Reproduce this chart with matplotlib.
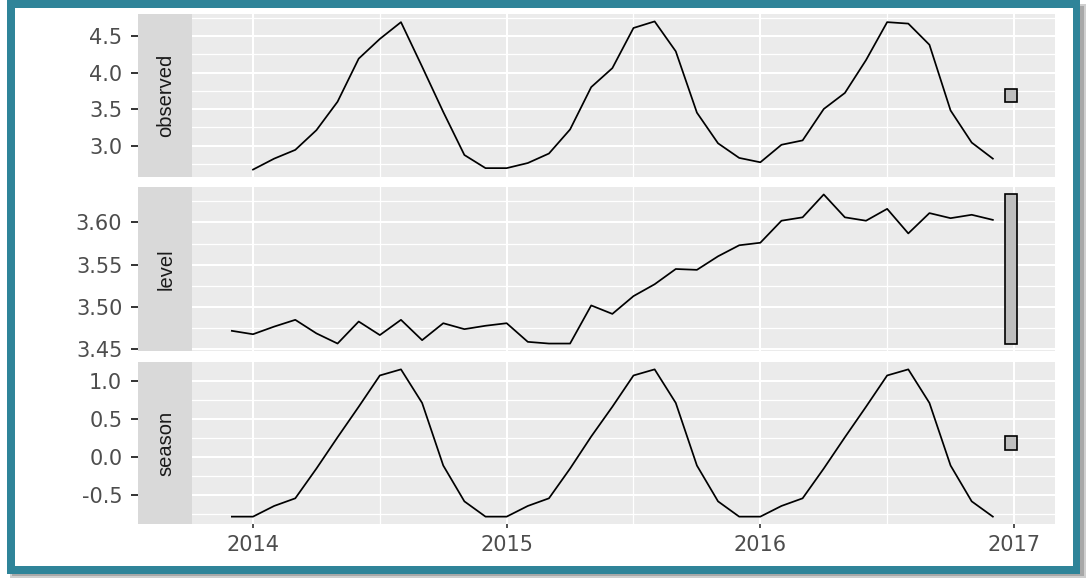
import matplotlib
matplotlib.use("Agg")
import matplotlib.pyplot as plt
from matplotlib.patches import Rectangle
from matplotlib.ticker import FixedLocator
import numpy as np

# ---- data -------------------------------------------------------------
observed = [2.67, 2.82, 2.94, 3.21, 3.60, 4.19, 4.46, 4.69, 4.08, 3.46, 2.87, 2.69,
            2.69, 2.76, 2.89, 3.22, 3.80, 4.06, 4.61, 4.70, 4.29, 3.45, 3.03, 2.83,
            2.77, 3.01, 3.07, 3.50, 3.72, 4.17, 4.69, 4.67, 4.38, 3.48, 3.04, 2.82]
level = [3.472,
         3.468, 3.477, 3.485, 3.469, 3.457, 3.483, 3.467, 3.485, 3.461, 3.481, 3.474, 3.478,
         3.481, 3.459, 3.457, 3.457, 3.502, 3.492, 3.513, 3.527, 3.545, 3.544, 3.560, 3.573,
         3.576, 3.602, 3.606, 3.633, 3.606, 3.602, 3.616, 3.587, 3.611, 3.605, 3.609, 3.603]
season = [-0.78,
          -0.78, -0.64, -0.54, -0.15, 0.26, 0.66, 1.07, 1.15, 0.71, -0.11, -0.58, -0.78,
          -0.78, -0.64, -0.54, -0.15, 0.27, 0.66, 1.07, 1.15, 0.71, -0.11, -0.58, -0.78,
          -0.78, -0.64, -0.54, -0.15, 0.26, 0.66, 1.07, 1.15, 0.71, -0.11, -0.58, -0.78]

obs_start = 2014.0             # first observation (January 2014), monthly
state_start = 2014.0 - 1 / 12  # components include the initial state
freq = 12

panel_names = ["observed", "level", "season"]
panel_ticks = [[3.0, 3.5, 4.0, 4.5], [3.45, 3.50, 3.55, 3.60], [-0.5, 0.0, 0.5, 1.0]]
panel_tick_labels = [["3.0", "3.5", "4.0", "4.5"],
                     ["3.45", "3.50", "3.55", "3.60"],
                     ["-0.5", "0.0", "0.5", "1.0"]]
panel_minor = [[2.75, 3.25, 3.75, 4.25, 4.75],
               [3.475, 3.525, 3.575, 3.625],
               [-0.75, -0.25, 0.25, 0.75]]
year_ticks = [2014, 2015, 2016, 2017]
year_labels = ["2014", "2015", "2016", "2017"]
half_years = [2014.5, 2015.5, 2016.5]

# ---- figure -----------------------------------------------------------
W, H = 1086, 578
fig = plt.figure(figsize=(W / 100, H / 100), dpi=100)


def box(x0, y0, x1, y1):
    return [x0 / W, 1 - y1 / H, (x1 - x0) / W, (y1 - y0) / H]


# framed background with a soft drop shadow
bg = fig.add_axes([0, 0, 1, 1], zorder=0)
bg.set_xlim(0, W)
bg.set_ylim(H, 0)
bg.axis("off")
bg.add_patch(Rectangle((10, 4), W - 10, H - 4, color="#cfcfcf", lw=0))
bg.add_patch(Rectangle((12, 6), W - 14, H - 8, color="#a8a8a8", lw=0))
bg.add_patch(Rectangle((7, 0), 1073, 574, color="#2f8499", lw=0))
bg.add_patch(Rectangle((14.5, 7.5), 1058.5, 558.5, color="white", lw=0))

rows = [(14, 177), (187, 351), (362, 524)]
series = [observed, level, season]
times = [obs_start + np.arange(len(observed)) / freq,
         state_start + np.arange(len(level)) / freq,
         state_start + np.arange(len(season)) / freq]

bar_len = max(level) - min(level)
xlim = (2013.7595, 2017.1617)
bar_x0, bar_w = 2016.965, 0.048

for i, (name, (y0, y1), vals, t) in enumerate(zip(panel_names, rows, series, times)):
    ax = fig.add_axes(box(192, y0, 1055, y1), zorder=2)
    st = fig.add_axes(box(138, y0, 192, y1), sharey=ax, zorder=2)

    vals = np.asarray(vals)
    lo, hi = vals.min(), vals.max()
    pad = 0.05 * (hi - lo)
    ax.set_ylim(lo - pad, hi + pad)
    ax.set_xlim(*xlim)

    ax.set_facecolor("#EBEBEB")
    for s in ax.spines.values():
        s.set_visible(False)
    ax.set_xticks(year_ticks)
    ax.xaxis.set_minor_locator(FixedLocator(half_years))
    ax.set_yticks(panel_ticks[i], panel_tick_labels[i])
    ax.yaxis.set_minor_locator(FixedLocator(panel_minor[i]))
    ax.grid(which="major", color="white", lw=1.5)
    ax.grid(which="minor", color="white", lw=0.9)
    ax.set_axisbelow(True)
    ax.tick_params(which="both", left=False, labelleft=False)
    ax.tick_params(axis="x", which="minor", bottom=False)
    if i < 2:
        ax.tick_params(axis="x", which="major", bottom=False, labelbottom=False)
    else:
        ax.set_xticklabels(year_labels)
        ax.tick_params(axis="x", which="major", bottom=True, labelbottom=True,
                       length=3, width=1.2, color="#333333", pad=5,
                       labelsize=15, labelcolor="#4D4D4D")

    ax.plot(t, vals, color="black", lw=1.25, zorder=3)
    mid = (lo + hi) / 2
    ax.add_patch(Rectangle((bar_x0, mid - bar_len / 2), bar_w, bar_len,
                           facecolor="#BEBEBE", edgecolor="black", lw=1.2, zorder=3))

    # strip with the component name, y axis drawn on its outer side
    st.set_facecolor("#D9D9D9")
    for s in st.spines.values():
        s.set_visible(False)
    st.set_xticks([])
    st.tick_params(axis="y", which="major", left=True, labelleft=True,
                   length=5.3, width=1.4, color="#333333", pad=6,
                   labelsize=15, labelcolor="#4D4D4D")
    st.tick_params(axis="y", which="minor", left=False)
    st.text(0.52, 0.5, name, rotation=90, transform=st.transAxes,
            ha="center", va="center", fontsize=14.5, family="Liberation Sans",
            color="#1A1A1A")

fig.savefig("out.png", dpi=100)
